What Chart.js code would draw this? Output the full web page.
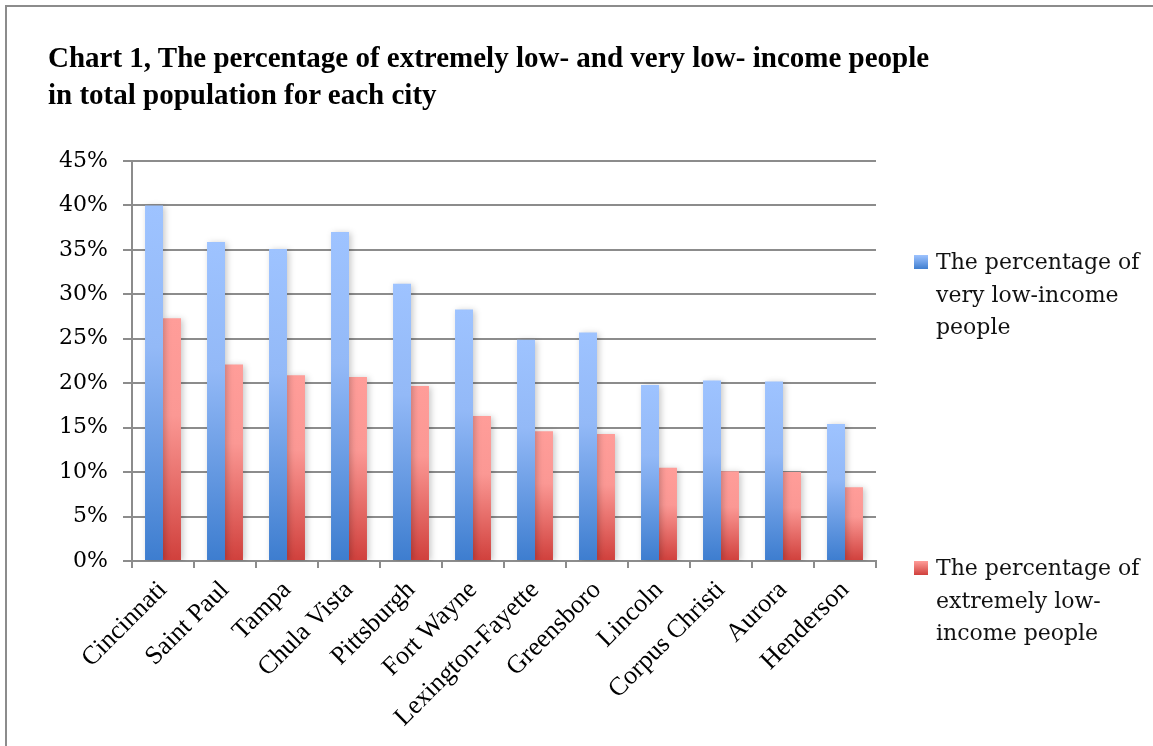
<!DOCTYPE html>
<html>
<head>
<meta charset="utf-8">
<script src="https://cdn.jsdelivr.net/npm/chart.js@4.4.0/dist/chart.umd.min.js"></script>
<style>
  body { margin: 0; background: #fff; }
  #wrap { position: relative; width: 1153px; height: 746px; overflow: hidden; }
  #frame { position: absolute; left: 5px; top: 5px; width: 1160px; height: 760px;
           border-top: 2px solid #8c8c8c; border-left: 2px solid #8c8c8c; }
  #title { position: absolute; left: 48px; top: 39px; font: bold 29px "Liberation Serif", serif;
           line-height: 37px; color: #000; }
  .leg { position: absolute; left: 914px; width: 235px; font: 22px "DejaVu Serif", serif;
         line-height: 32.5px; color: #111; }
  .leg .sw { position: absolute; left: 0; top: 9px; width: 14px; height: 14px; }
  .leg .tx { margin-left: 22px; }
  canvas { position: absolute; left: 0; top: 0; }
</style>
</head>
<body>
<div id="wrap">
  <div id="frame"></div>
  <canvas id="chart" width="1153" height="746"></canvas>
  <div id="title">Chart 1, The percentage of extremely low- and very low- income people<br>in total population for each city</div>
  <div class="leg" style="top:246px"><div class="sw" style="background:linear-gradient(#9ec3ff,#3f7ecf)"></div><div class="tx">The percentage of<br>very low-income<br>people</div></div>
  <div class="leg" style="top:552px"><div class="sw" style="background:linear-gradient(#ff9d99,#d0403c)"></div><div class="tx">The percentage of<br>extremely low-<br>income people</div></div>
</div>
<script>
const cities = ['Cincinnati', 'Saint Paul', 'Tampa', 'Chula Vista', 'Pittsburgh', 'Fort Wayne',
    'Lexington-Fayette', 'Greensboro', 'Lincoln', 'Corpus Christi', 'Aurora', 'Henderson'];
const veryLow = [40.0, 35.9, 35.1, 37.0, 31.2, 28.3, 24.9, 25.7, 19.8, 20.3, 20.2, 15.4];
const extremelyLow = [27.3, 22.1, 20.9, 20.7, 19.7, 16.3, 14.6, 14.3, 10.5, 10.1, 10.0, 8.3];
const yTicks = [0, 5, 10, 15, 20, 25, 30, 35, 40, 45];

// vertical gradient per bar, light at the top, dark at the base
function barFill(light, mid, dark) {
    return (context) => {
        const chart = context.chart;
        if (!chart.chartArea || context.type !== 'data') return dark;
        const y = chart.scales.y;
        const top = y.getPixelForValue(context.raw);
        const bottom = y.getPixelForValue(0);
        if (bottom - top < 1) return dark;
        const g = chart.ctx.createLinearGradient(0, top, 0, bottom);
        g.addColorStop(0, light);
        g.addColorStop(0.4, mid);
        g.addColorStop(1, dark);
        return g;
    };
}

// soft drop shadow behind the bars
const barShadow = {
    id: 'barShadow',
    beforeDatasetsDraw(chart) {
        const c = chart.ctx;
        c.save();
        c.shadowColor = 'rgba(0,0,0,0.22)';
        c.shadowBlur = 6;
        c.shadowOffsetX = 2;
        c.shadowOffsetY = 1;
    },
    afterDatasetsDraw(chart) {
        chart.ctx.restore();
    }
};

const ctx = document.getElementById('chart').getContext('2d');
const chart = new Chart(ctx, {
    type: 'bar',
    data: {
        labels: cities,
        datasets: [{
            label: 'The percentage of very low-income people',
            data: veryLow,
            backgroundColor: barFill('#9ec3ff', '#93b9f7', '#3d7dcf'),
            borderWidth: 0,
            categoryPercentage: 0.58,
            barPercentage: 1.0
        }, {
            label: 'The percentage of extremely low-income people',
            data: extremelyLow,
            backgroundColor: barFill('#ff9d99', '#fb9894', '#d0403c'),
            borderWidth: 0,
            categoryPercentage: 0.58,
            barPercentage: 1.0
        }]
    },
    plugins: [barShadow],
    options: {
        responsive: false,
        animation: false,
        layout: { padding: { top: 161, right: 277, left: 0, bottom: 0 } },
        plugins: {
            legend: { display: false },
            title: { display: false },
            tooltip: { enabled: false }
        },
        scales: {
            x: {
                afterFit: (scale) => { scale.height = 185; },
                border: { color: '#8c8c8c', width: 2 },
                grid: { offset: true, drawOnChartArea: false, drawTicks: true, tickLength: 7, color: '#8c8c8c', lineWidth: 2 },
                ticks: {
                    minRotation: 45, maxRotation: 45, padding: 7, color: '#000',
                    font: { family: '"Liberation Serif", serif', size: 26 }
                }
            },
            y: {
                min: 0,
                max: 45,
                afterFit: (scale) => { scale.width = 132; },
                afterBuildTicks: (scale) => { scale.ticks = yTicks.map(v => ({ value: v })); },
                border: { color: '#8c8c8c', width: 2 },
                grid: { color: '#8c8c8c', lineWidth: 2, tickLength: 9 },
                ticks: {
                    padding: 15, color: '#000',
                    font: { family: '"DejaVu Serif", serif', size: 22 },
                    callback: (v) => v + '%'
                }
            }
        }
    }
});
</script>
</body>
</html>
